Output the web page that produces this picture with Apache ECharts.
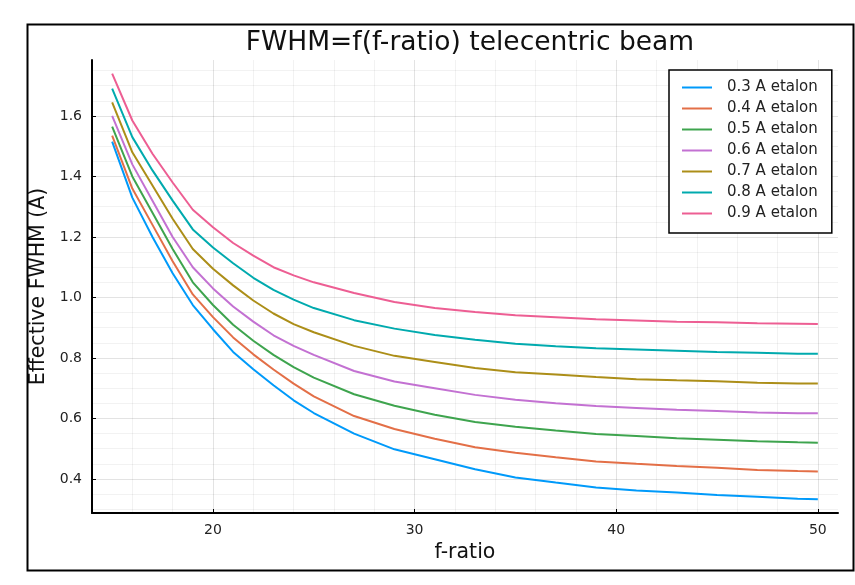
<!DOCTYPE html>
<html>
<head>
<meta charset="utf-8">
<script src="https://cdn.jsdelivr.net/npm/echarts@6/dist/echarts.min.js"></script>
<style>
  html, body { margin: 0; padding: 0; background: #fff; }
  #chart { width: 855px; height: 585px; }
</style>
</head>
<body>
<div id="chart"></div>
<script>
// ---- data ----
const xValues = [15,16,17,18,19,20,21,22,23,24,25,27,29,31,33,35,37,39,41,43,45,47,49,50];
const etalon03 = [1.515,1.33,1.20,1.08,0.975,0.895,0.82,0.763,0.71,0.66,0.618,0.55,0.498,0.465,0.432,0.405,0.388,0.372,0.362,0.355,0.347,0.341,0.335,0.333];
const etalon04 = [1.535,1.36,1.24,1.12,1.01,0.935,0.868,0.812,0.762,0.715,0.673,0.608,0.565,0.533,0.505,0.487,0.472,0.458,0.450,0.443,0.437,0.430,0.426,0.425];
const etalon05 = [1.565,1.40,1.28,1.16,1.05,0.975,0.91,0.857,0.81,0.77,0.735,0.68,0.642,0.612,0.588,0.573,0.56,0.549,0.542,0.535,0.53,0.525,0.521,0.520];
const etalon06 = [1.60,1.44,1.32,1.20,1.10,1.03,0.97,0.92,0.875,0.84,0.81,0.757,0.722,0.70,0.678,0.662,0.65,0.641,0.635,0.629,0.625,0.620,0.617,0.617];
const etalon07 = [1.645,1.48,1.37,1.26,1.16,1.095,1.04,0.99,0.947,0.912,0.885,0.84,0.807,0.787,0.767,0.753,0.745,0.737,0.73,0.726,0.723,0.718,0.716,0.716];
const etalon08 = [1.69,1.53,1.42,1.32,1.225,1.165,1.113,1.065,1.025,0.993,0.965,0.925,0.897,0.876,0.860,0.847,0.839,0.832,0.828,0.824,0.82,0.817,0.814,0.814];
const etalon09 = [1.74,1.585,1.475,1.38,1.29,1.232,1.18,1.138,1.10,1.073,1.05,1.015,0.985,0.965,0.952,0.941,0.935,0.928,0.924,0.92,0.918,0.915,0.913,0.912];
const seriesNames = ['0.3 A etalon','0.4 A etalon','0.5 A etalon','0.6 A etalon','0.7 A etalon','0.8 A etalon','0.9 A etalon'];
const xMajorTicks = [20,30,40,50];
const yMajorTicks = [0.4,0.6,0.8,1.0,1.2,1.4,1.6];

const allSeries = [etalon03, etalon04, etalon05, etalon06, etalon07, etalon08, etalon09];
const colors = ['#009AFA','#E36F47','#3EA44E','#C371D2','#AC8E18','#00AAAE','#ED5E93'];

const X_MIN = 14, X_MAX = 51, Y_MIN = 0.2875, Y_MAX = 1.785;
const FONT = 'DejaVu Sans';
const MAJ = 'rgba(0,0,0,0.11)', MIN = 'rgba(0,0,0,0.05)', NONE = 'rgba(0,0,0,0)';

// gridline colour cycles (x: step 2 from 14, major every 10; y: step 0.0125 from 0.2875, minor every 0.05, major every 0.2)
const xGridColors = [MIN, MIN, MIN, MAJ, MIN];
const yGridColors = [NONE, MIN, NONE, NONE, NONE, MIN, NONE, NONE, NONE, MAJ, NONE, NONE, NONE, MIN, NONE, NONE];

const chart = echarts.init(document.getElementById('chart'), null, {renderer: 'canvas'});

const option = {
  backgroundColor: '#fff',
  animation: false,
  color: colors,
  title: {
    text: 'FWHM=f(f-ratio) telecentric beam',
    left: 465, top: 25, textAlign: 'center',
    textStyle: {fontFamily: FONT, fontSize: 26.5, fontWeight: 'normal', color: '#111'}
  },
  grid: {left: 92, right: 17, top: 60, bottom: 72, containLabel: false},
  legend: {
    orient: 'vertical', left: 669, top: 70,
    itemWidth: 30, itemHeight: 14, itemGap: 6,
    padding: [10, 14, 12, 12],
    backgroundColor: '#fff', borderColor: '#000', borderWidth: 1.5, borderRadius: 0,
    itemStyle: {color: NONE, borderColor: NONE, borderWidth: 0, opacity: 0},
    textStyle: {fontFamily: FONT, fontSize: 15, color: '#222', padding: [0,0,0,10]},
    data: seriesNames
  },
  xAxis: [
    {
      type: 'value', min: X_MIN, max: X_MAX, interval: 2,
      name: 'f-ratio', nameLocation: 'middle', nameGap: 29,
      nameTextStyle: {fontFamily: FONT, fontSize: 20.5, color: '#111'},
      axisLine: {show: true, onZero: false, lineStyle: {color: '#000', width: 2}},
      axisTick: {show: false},
      axisLabel: {customValues: xMajorTicks, margin: 10, fontFamily: FONT, fontSize: 14, color: '#222'},
      splitLine: {show: true, showMaxLine: false, lineStyle: {color: xGridColors, width: 1}},
      z: 3
    },
    {
      type: 'value', min: X_MIN, max: X_MAX, position: 'bottom',
      axisLine: {show: false}, axisLabel: {show: false},
      axisTick: {show: true, inside: true, length: 4, customValues: xMajorTicks, lineStyle: {color: '#000', width: 1}},
      splitLine: {show: false},
      z: 4
    }
  ],
  yAxis: [
    {
      type: 'value', min: Y_MIN, max: Y_MAX, interval: 0.0125,
      name: 'Effective FWHM (A)', nameLocation: 'middle', nameGap: 40,
      nameTextStyle: {fontFamily: FONT, fontSize: 20.5, color: '#111'},
      axisLine: {show: true, onZero: false, lineStyle: {color: '#000', width: 2}},
      axisTick: {show: false},
      axisLabel: {customValues: yMajorTicks, margin: 10, fontFamily: FONT, fontSize: 14, color: '#222',
                  formatter: v => v.toFixed(1)},
      splitLine: {show: true, showMaxLine: false, lineStyle: {color: yGridColors, width: 1}},
      z: 3
    },
    {
      type: 'value', min: Y_MIN, max: Y_MAX, position: 'left',
      axisLine: {show: false}, axisLabel: {show: false},
      axisTick: {show: true, inside: true, length: 4, customValues: yMajorTicks, lineStyle: {color: '#000', width: 1}},
      splitLine: {show: false},
      z: 4
    }
  ],
  series: allSeries.map((vals, i) => ({
    name: seriesNames[i],
    type: 'line',
    xAxisIndex: 0, yAxisIndex: 0,
    data: xValues.map((x, j) => [x, vals[j]]),
    symbol: 'none',
    smooth: false,
    lineStyle: {width: 2, color: colors[i]},
    itemStyle: {color: colors[i]},
    z: 5
  })),
  graphic: [{
    type: 'rect', left: 25, top: 22,
    shape: {width: 826, height: 546},
    style: {fill: 'none', stroke: '#000', lineWidth: 2},
    silent: true, z: 100
  }]
};
chart.setOption(option);
</script>
</body>
</html>
